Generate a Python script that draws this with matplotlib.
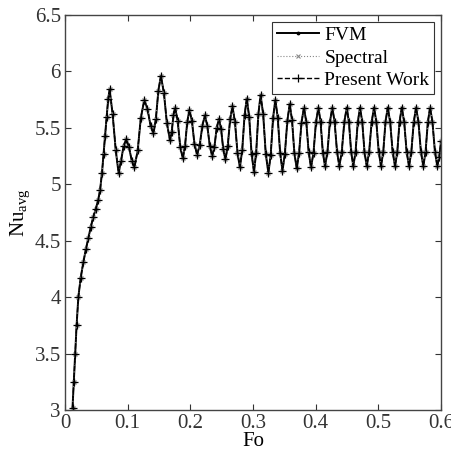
import matplotlib
matplotlib.use("Agg")
import matplotlib.pyplot as plt

# Nu_avg vs Fo (as três soluções praticamente coincidem)
fo = [0.0120, 0.0140, 0.0160, 0.0185, 0.0213, 0.0250, 0.0293, 0.0335, 0.0372, 0.0410,
      0.0452, 0.0490, 0.0530, 0.0560, 0.0590, 0.0615, 0.0640, 0.0665, 0.0690, 0.0712,
      0.0760, 0.0810, 0.0855, 0.0895, 0.0935, 0.0978, 0.1020, 0.1065, 0.1108, 0.1160,
      0.1210, 0.1265, 0.1315, 0.1365, 0.1412, 0.1450, 0.1490, 0.1530, 0.1578, 0.1626,
      0.1675, 0.1702, 0.1730, 0.1757, 0.1798, 0.1839, 0.1880, 0.1915, 0.1950, 0.1985,
      0.2025, 0.2065, 0.2108, 0.2150, 0.2192, 0.2232, 0.2270, 0.2310, 0.2348, 0.2384,
      0.2420, 0.2457, 0.2490, 0.2525, 0.2560, 0.2597, 0.2635, 0.2672, 0.2712, 0.2752,
      0.2790, 0.2827, 0.2865, 0.2900, 0.2938, 0.2977, 0.3015, 0.3050, 0.3085, 0.3120,
      0.3162, 0.3203, 0.3245, 0.3282, 0.3320, 0.3356, 0.3394, 0.3432, 0.3470, 0.3508,
      0.3547, 0.3585, 0.3622, 0.3659, 0.3697, 0.3735, 0.3772, 0.3812, 0.3850, 0.3887,
      0.3925, 0.3965, 0.4004, 0.4043, 0.4078, 0.4114, 0.4149, 0.4188, 0.4226, 0.4265,
      0.4302, 0.4340, 0.4377, 0.4416, 0.4456, 0.4495, 0.4530, 0.4565, 0.4600, 0.4636,
      0.4671, 0.4707, 0.4743, 0.4778, 0.4814, 0.4853, 0.4892, 0.4931, 0.4968, 0.5005,
      0.5042, 0.5078, 0.5113, 0.5149, 0.5188, 0.5227, 0.5266, 0.5302, 0.5337, 0.5373,
      0.5412, 0.5450, 0.5489, 0.5526, 0.5564, 0.5601, 0.5640, 0.5678, 0.5717, 0.5753,
      0.5789, 0.5825, 0.5863, 0.5902, 0.5940, 0.5970, 0.6000]

nu = [3.02, 3.25, 3.50, 3.75, 4.00, 4.17, 4.31, 4.43, 4.52, 4.62,
      4.71, 4.78, 4.86, 4.95, 5.10, 5.27, 5.43, 5.60, 5.76, 5.84,
      5.62, 5.30, 5.10, 5.21, 5.34, 5.40, 5.33, 5.21, 5.15, 5.30,
      5.59, 5.745, 5.67, 5.52, 5.45, 5.58, 5.83, 5.96, 5.81, 5.54,
      5.39, 5.46, 5.61, 5.68, 5.56, 5.33, 5.23, 5.34, 5.55, 5.66,
      5.56, 5.36, 5.26, 5.35, 5.52, 5.61, 5.52, 5.34, 5.25, 5.33,
      5.50, 5.58, 5.49, 5.31, 5.22, 5.34, 5.58, 5.69, 5.55, 5.28,
      5.15, 5.30, 5.61, 5.76, 5.60, 5.27, 5.11, 5.28, 5.62, 5.79,
      5.62, 5.27, 5.10, 5.26, 5.59, 5.75, 5.59, 5.28, 5.12, 5.27,
      5.56, 5.71, 5.57, 5.28, 5.14, 5.28, 5.54, 5.68, 5.55, 5.29,
      5.15, 5.28, 5.55, 5.68, 5.55, 5.28, 5.16, 5.29, 5.55, 5.68,
      5.55, 5.29, 5.16, 5.29, 5.55, 5.68, 5.55, 5.29, 5.16, 5.29,
      5.55, 5.68, 5.55, 5.29, 5.16, 5.29, 5.55, 5.68, 5.55, 5.29,
      5.16, 5.29, 5.55, 5.68, 5.55, 5.29, 5.16, 5.29, 5.55, 5.68,
      5.55, 5.29, 5.16, 5.29, 5.55, 5.68, 5.55, 5.29, 5.16, 5.29,
      5.55, 5.68, 5.55, 5.29, 5.16, 5.24, 5.38]

x_ticks = [0, 0.1, 0.2, 0.3, 0.4, 0.5, 0.6]
x_labels = ["0", "0.1", "0.2", "0.3", "0.4", "0.5", "0.6"]
y_ticks = [3, 3.5, 4, 4.5, 5, 5.5, 6, 6.5]
y_labels = ["3", "3.5", "4", "4.5", "5", "5.5", "6", "6.5"]

plt.rcParams['font.family'] = ['Liberation Serif', 'DejaVu Serif']
plt.rcParams['mathtext.fontset'] = 'custom'
plt.rcParams['mathtext.rm'] = 'Liberation Serif'
plt.rcParams['mathtext.it'] = 'Liberation Serif'

fig = plt.figure(figsize=(4.52, 4.54), dpi=100)
ax = fig.add_axes([0.1438, 0.0969, 0.832, 0.8701])

ax.plot(fo, nu, color='black', lw=1.4, marker='.', ms=3.5, label='FVM')
ax.plot(fo, nu, color='#888888', lw=0.8, ls=':', marker='x', ms=3.5, mew=0.8, label='Spectral')
ax.plot(fo, nu, color='black', lw=1.0, ls='--', marker='+', ms=6, mew=0.9, label='Present Work')

ax.set_xlim(0, 0.6)
ax.set_ylim(3, 6.5)
ax.set_xticks(x_ticks)
ax.set_xticklabels(x_labels)
ax.set_yticks(y_ticks)
ax.set_yticklabels(y_labels)
ax.tick_params(direction='in', top=True, right=True, length=4, width=0.8,
               labelsize=15, colors='#333333', pad=3)
for s in ax.spines.values():
    s.set_color('#444444')
    s.set_linewidth(1.0)

ax.set_xlabel('Fo', fontsize=15, labelpad=-1)
ax.set_ylabel(r'Nu$_{\mathrm{avg}}$', fontsize=15, labelpad=2)

leg = ax.legend(loc='upper right', fontsize=14, fancybox=False, framealpha=1,
                edgecolor='#333333', handlelength=2.2, handletextpad=0.25,
                borderpad=0.25, labelspacing=0.25, borderaxespad=0.35)
leg.get_frame().set_linewidth(0.8)

fig.savefig('out.png', dpi=100)
